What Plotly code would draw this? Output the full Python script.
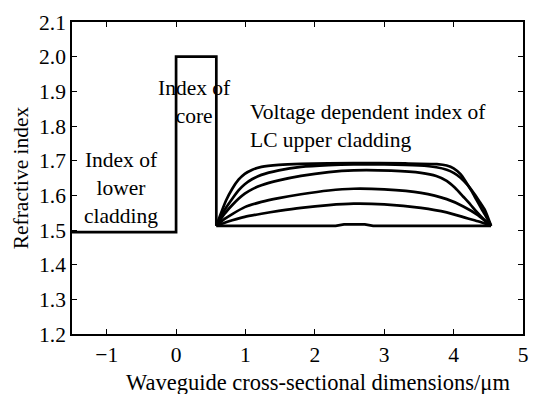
import plotly.graph_objects as go

# Step profile: lower cladding -> core
step_x = [-1.5, 0.0, 0.0, 0.58, 0.58]
step_y = [1.494, 1.494, 2.0, 2.0, 1.512]

# LC upper cladding index profiles for increasing applied voltage
lc_x = {
    "A": [0.58, 0.65, 0.72, 0.81, 0.9, 0.99, 1.1, 1.23, 1.48, 1.8, 2.56, 3.3, 3.76, 3.9, 4.0, 4.1, 4.18, 4.26, 4.33, 4.4, 4.45, 4.5, 4.54],
    "B": [0.58, 0.7, 0.81, 0.9, 0.99, 1.1, 1.23, 1.48, 1.8, 2.2, 2.56, 3.0, 3.5, 3.75, 3.9, 4.0, 4.1, 4.2, 4.3, 4.38, 4.45, 4.54],
    "C": [0.58, 0.7, 0.81, 0.9, 0.99, 1.1, 1.23, 1.48, 1.8, 2.2, 2.56, 3.1, 3.53, 3.75, 3.9, 4.02, 4.14, 4.24, 4.33, 4.43, 4.54],
    "D": [0.58, 0.7, 0.81, 0.99, 1.23, 1.48, 1.8, 2.2, 2.56, 3.0, 3.53, 3.9, 4.14, 4.35, 4.54],
    "E": [0.58, 0.7, 0.81, 0.99, 1.23, 1.48, 1.8, 2.2, 2.56, 3.0, 3.53, 3.9, 4.14, 4.35, 4.54],
}
lc_y = {
    "A": [1.512, 1.55, 1.585, 1.619, 1.645, 1.662, 1.674, 1.682, 1.688, 1.691, 1.693, 1.692, 1.69, 1.686, 1.678, 1.661, 1.638, 1.612, 1.587, 1.562, 1.545, 1.527, 1.512],
    "B": [1.512, 1.558, 1.59, 1.614, 1.632, 1.647, 1.659, 1.672, 1.682, 1.687, 1.689, 1.689, 1.686, 1.681, 1.674, 1.665, 1.651, 1.63, 1.604, 1.58, 1.558, 1.512],
    "C": [1.512, 1.547, 1.572, 1.59, 1.605, 1.618, 1.629, 1.643, 1.656, 1.667, 1.672, 1.671, 1.665, 1.656, 1.642, 1.622, 1.596, 1.574, 1.553, 1.532, 1.512],
    "D": [1.512, 1.532, 1.546, 1.566, 1.581, 1.592, 1.603, 1.614, 1.619, 1.617, 1.607, 1.589, 1.568, 1.543, 1.512],
    "E": [1.512, 1.521, 1.528, 1.538, 1.547, 1.555, 1.564, 1.572, 1.576, 1.574, 1.564, 1.551, 1.537, 1.525, 1.512],
}
# Zero-voltage (unaligned) profile, nearly flat
base_x = [0.58, 2.3, 2.42, 2.72, 2.84, 4.54]
base_y = [1.512, 1.512, 1.516, 1.516, 1.512, 1.512]

x_ticks = [-1, 0, 1, 2, 3, 4, 5]
y_ticks = [1.2, 1.3, 1.4, 1.5, 1.6, 1.7, 1.8, 1.9, 2.0, 2.1]

FONT = "Liberation Serif"
FS = 21.5
LW = 2.7

fig = go.Figure()
fig.add_trace(go.Scatter(x=step_x, y=step_y, mode="lines",
                         line=dict(color="black", width=LW), showlegend=False))
for k in lc_x:
    fig.add_trace(go.Scatter(x=lc_x[k], y=lc_y[k], mode="lines",
                             line=dict(color="black", width=LW, shape="spline", smoothing=0.6),
                             showlegend=False))
fig.add_trace(go.Scatter(x=base_x, y=base_y, mode="lines",
                         line=dict(color="black", width=LW), showlegend=False))

notes = [
    (-0.79, 1.622, "Index of<br>lower<br>cladding", "center"),
    (0.27, 1.869, "Index of<br>core", "center"),
    (1.03, 1.799, "Voltage dependent index of<br>LC upper cladding", "left"),
]
for x, y, t, al in notes:
    fig.add_annotation(x=x, y=y, text=t, showarrow=False, align=al,
                       xanchor="left" if al == "left" else "center", yanchor="middle",
                       font=dict(family=FONT, size=FS, color="black"))

# x-axis title, set slightly right of the plot centre
fig.add_annotation(xref="paper", yref="paper", x=0.546, y=-0.154,
                   text="Waveguide cross-sectional dimensions/\u03bcm", showarrow=False,
                   xanchor="center", yanchor="middle",
                   font=dict(family=FONT, size=22.5, color="black"))

axis_common = dict(showline=True, linecolor="black", linewidth=1.6, mirror="ticks",
                   ticks="inside", ticklen=5, tickwidth=1.4, tickcolor="black",
                   showgrid=False, zeroline=False,
                   tickfont=dict(family=FONT, size=FS, color="black"))

fig.update_xaxes(range=[-1.5, 5], tickvals=x_ticks,
                 ticktext=[str(v).replace("-", "\u2212") for v in x_ticks],
                 **axis_common)
fig.update_yaxes(range=[1.2, 2.1], tickvals=y_ticks, ticktext=[f"{v:.1f}" for v in y_ticks],
                 title=dict(text="Refractive index", standoff=5,
                            font=dict(family=FONT, size=FS, color="black")),
                 **axis_common)

fig.update_layout(width=534, height=394, margin=dict(l=72, r=6, t=22, b=60),
                  plot_bgcolor="white", paper_bgcolor="white")
fig.write_html("out.html")
